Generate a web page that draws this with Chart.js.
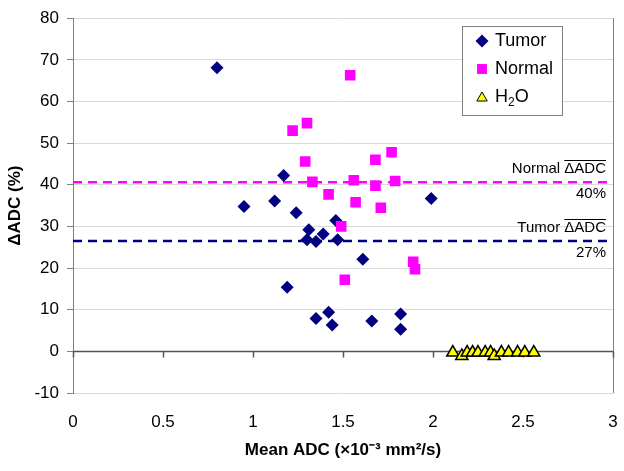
<!DOCTYPE html>
<html>
<head>
<meta charset="utf-8">
<script src="https://cdn.jsdelivr.net/npm/chart.js@4"></script>
<style>
  html, body { margin: 0; padding: 0; background: #fff; }
  #wrap { width: 624px; height: 471px; }
</style>
</head>
<body>
<div id="wrap"><canvas id="AdcChart" width="624" height="471"></canvas></div>
<script>
// values (x = mean ADC, y = delta ADC %)
var tumorX = [0.80, 1.17, 0.95, 1.12, 1.24, 1.31, 1.30, 1.35, 1.39, 1.46, 1.47, 1.61, 1.99, 1.19, 1.35, 1.42, 1.44, 1.66, 1.82, 1.82];
var tumorY = [68.1, 42.2, 34.8, 36.1, 33.3, 29.2, 26.8, 26.4, 28.2, 31.4, 26.8, 22.1, 36.7, 15.4, 7.9, 9.4, 6.3, 7.3, 9.0, 5.3];

var normalX = [1.54, 1.22, 1.30, 1.29, 1.68, 1.77, 1.33, 1.56, 1.68, 1.79, 1.42, 1.57, 1.71, 1.49, 1.89, 1.90, 1.51];
var normalY = [66.3, 53.0, 54.8, 45.6, 46.0, 47.8, 40.7, 41.1, 39.8, 40.9, 37.7, 35.8, 34.5, 30.0, 21.5, 19.7, 17.2];

var waterX = [2.11, 2.16, 2.19, 2.22, 2.25, 2.29, 2.32, 2.34, 2.38, 2.42, 2.47, 2.51, 2.56];
var waterY = [-0.3, -1.1, -0.3, -0.3, -0.3, -0.3, -0.3, -1.1, -0.3, -0.3, -0.3, -0.3, -0.3];

var normalMean = [40.6];
var tumorMean = [26.5];
var meanLabels = ['40%', '27%'];

var xTicks = [0, 0.5, 1, 1.5, 2, 2.5, 3];

var FONT = "'Liberation Sans', Arial, sans-serif";

function pts(xs, ys) {
    return xs.map(function (x, i) { return {x: x, y: ys[i]}; });
}
function meanLine(v) {
    return [{x: xTicks[0], y: v}, {x: xTicks[xTicks.length - 1], y: v}];
}

// zero axis line, its ticks and the right border
var axisPlugin = {
    id: 'axisPlugin',
    beforeDatasetsDraw: function (chart) {
        var ctx = chart.ctx, a = chart.chartArea;
        var xs = chart.scales.x, ys = chart.scales.y;
        var y0 = Math.round(ys.getPixelForValue(0)) + 0.5;
        ctx.save();
        ctx.strokeStyle = '#808080';
        ctx.lineWidth = 1;
        ctx.beginPath();
        ctx.moveTo(a.right + 0.5, a.top);
        ctx.lineTo(a.right + 0.5, a.bottom);
        ctx.stroke();
        ctx.strokeStyle = '#555555';
        ctx.lineWidth = 1.5;
        ctx.beginPath();
        ctx.moveTo(a.left, y0);
        ctx.lineTo(a.right, y0);
        xTicks.forEach(function (t) {
            var px = Math.round(xs.getPixelForValue(t)) + 0.5;
            ctx.moveTo(px, y0);
            ctx.lineTo(px, y0 + 6);
        });
        ctx.stroke();
        ctx.restore();
    },
    afterDraw: function (chart) {
        var ctx = chart.ctx, a = chart.chartArea;
        var ys = chart.scales.y;
        ctx.save();

        // mean labels
        ctx.fillStyle = '#000';
        ctx.textAlign = 'right';
        ctx.textBaseline = 'middle';
        ctx.font = '15px ' + FONT;
        var rx = a.right - 7;
        [['Normal ', normalMean[0], meanLabels[0]], ['Tumor ', tumorMean[0], meanLabels[1]]].forEach(function (m) {
            var py = ys.getPixelForValue(m[1]);
            var w = ctx.measureText('\u0394ADC').width;
            ctx.fillText(m[0] + '\u0394ADC', rx, py - 13);
            ctx.strokeStyle = '#000';
            ctx.lineWidth = 1;
            ctx.beginPath();
            ctx.moveTo(rx - w, Math.round(py - 22) + 0.5);
            ctx.lineTo(rx, Math.round(py - 22) + 0.5);
            ctx.stroke();
            ctx.fillText(m[2], rx, py + 12);
        });

        // legend box
        var bx = 462.5, by = 26.5, bw = 100, bh = 89;
        ctx.fillStyle = '#fff';
        ctx.fillRect(bx, by, bw, bh);
        ctx.strokeStyle = '#808080';
        ctx.lineWidth = 1;
        ctx.strokeRect(bx, by, bw, bh);

        var items = chart.data.datasets.slice(0, 3);
        var rows = [{ds: items[1], y: 41}, {ds: items[0], y: 69}, {ds: items[2], y: 97}];
        rows.forEach(function (r) {
            var ds = r.ds;
            ctx.fillStyle = ds.backgroundColor;
            ctx.strokeStyle = ds.borderColor;
            Chart.helpers.drawPoint(ctx, {
                pointStyle: ds.pointStyle,
                radius: ds.pointStyle === 'triangle' ? 6 : (ds.pointStyle === 'rect' ? 7 : 6.5),
                rotation: 0,
                borderWidth: ds.borderWidth
            }, 482, r.y + (ds.pointStyle === 'triangle' ? 1 : 0));
            ctx.fillStyle = '#000';
            ctx.textAlign = 'left';
            ctx.textBaseline = 'middle';
            ctx.font = '18px ' + FONT;
            if (ds.label === 'H\u2082O') {
                ctx.fillText('H', 495, r.y);
                var hw = ctx.measureText('H').width;
                ctx.font = '12px ' + FONT;
                ctx.fillText('2', 495 + hw, r.y + 6);
                var sw = ctx.measureText('2').width;
                ctx.font = '18px ' + FONT;
                ctx.fillText('O', 495 + hw + sw, r.y);
            } else {
                ctx.fillText(ds.label, 495, r.y);
            }
        });
        ctx.restore();
    }
};

var ctxadc = document.getElementById('AdcChart');
var AdcChart = new Chart(ctxadc, {
    type: 'scatter',
    data: {
        datasets: [{
            label: 'Normal',
            data: pts(normalX, normalY),
            pointStyle: 'rect',
            pointRadius: 7.5,
            pointHoverRadius: 7.5,
            backgroundColor: '#FF00FF',
            borderColor: '#FF00FF',
            borderWidth: 0
        }, {
            label: 'Tumor',
            data: pts(tumorX, tumorY),
            pointStyle: 'rectRot',
            pointRadius: 6.5,
            pointHoverRadius: 6.5,
            backgroundColor: '#000080',
            borderColor: '#000080',
            borderWidth: 0
        }, {
            label: 'H\u2082O',
            data: pts(waterX, waterY),
            pointStyle: 'triangle',
            pointRadius: 7,
            pointHoverRadius: 7,
            backgroundColor: '#FFFF00',
            borderColor: '#000000',
            borderWidth: 1.5
        }, {
            label: 'Normal mean',
            data: meanLine(normalMean[0]),
            showLine: true,
            pointRadius: 0,
            borderColor: '#FF00FF',
            borderWidth: 2.5,
            borderDash: [9, 6]
        }, {
            label: 'Tumor mean',
            data: meanLine(tumorMean[0]),
            showLine: true,
            pointRadius: 0,
            borderColor: '#000080',
            borderWidth: 2.5,
            borderDash: [9, 6]
        }]
    },
    options: {
        responsive: false,
        animation: false,
        layout: { padding: { top: 13, right: 11, left: 0, bottom: 0 } },
        plugins: {
            legend: { display: false },
            tooltip: { enabled: false }
        },
        scales: {
            x: {
                type: 'linear',
                min: 0,
                max: 3,
                afterBuildTicks: function (s) { s.ticks = xTicks.map(function (v) { return {value: v}; }); },
                afterFit: function (s) { s.height = 78; s.paddingLeft = 0; s.paddingRight = 0; },
                grid: { display: false, drawTicks: false },
                border: { display: false },
                ticks: {
                    color: '#000',
                    padding: 19,
                    font: { size: 17, family: FONT },
                    callback: function (v) { return String(v); }
                },
                title: {
                    display: true,
                    text: 'Mean ADC (\u00D710\u207B\u00B3 mm\u00B2/s)',
                    color: '#000',
                    font: { size: 17, weight: 'bold', family: FONT },
                    padding: { top: 0, bottom: 10 }
                }
            },
            y: {
                min: -10,
                max: 80,
                afterFit: function (s) { s.width = 73; },
                grid: { color: '#D9D9D9', tickColor: '#808080', tickLength: 6 },
                border: { color: '#808080' },
                ticks: { stepSize: 10, color: '#000', padding: 8, font: { size: 17, family: FONT } },
                title: {
                    display: true,
                    text: '\u0394ADC (%)',
                    color: '#000',
                    font: { size: 17, weight: 'bold', family: FONT },
                    padding: { top: 5, bottom: 0 }
                }
            }
        }
    },
    plugins: [axisPlugin]
});
</script>
</body>
</html>
